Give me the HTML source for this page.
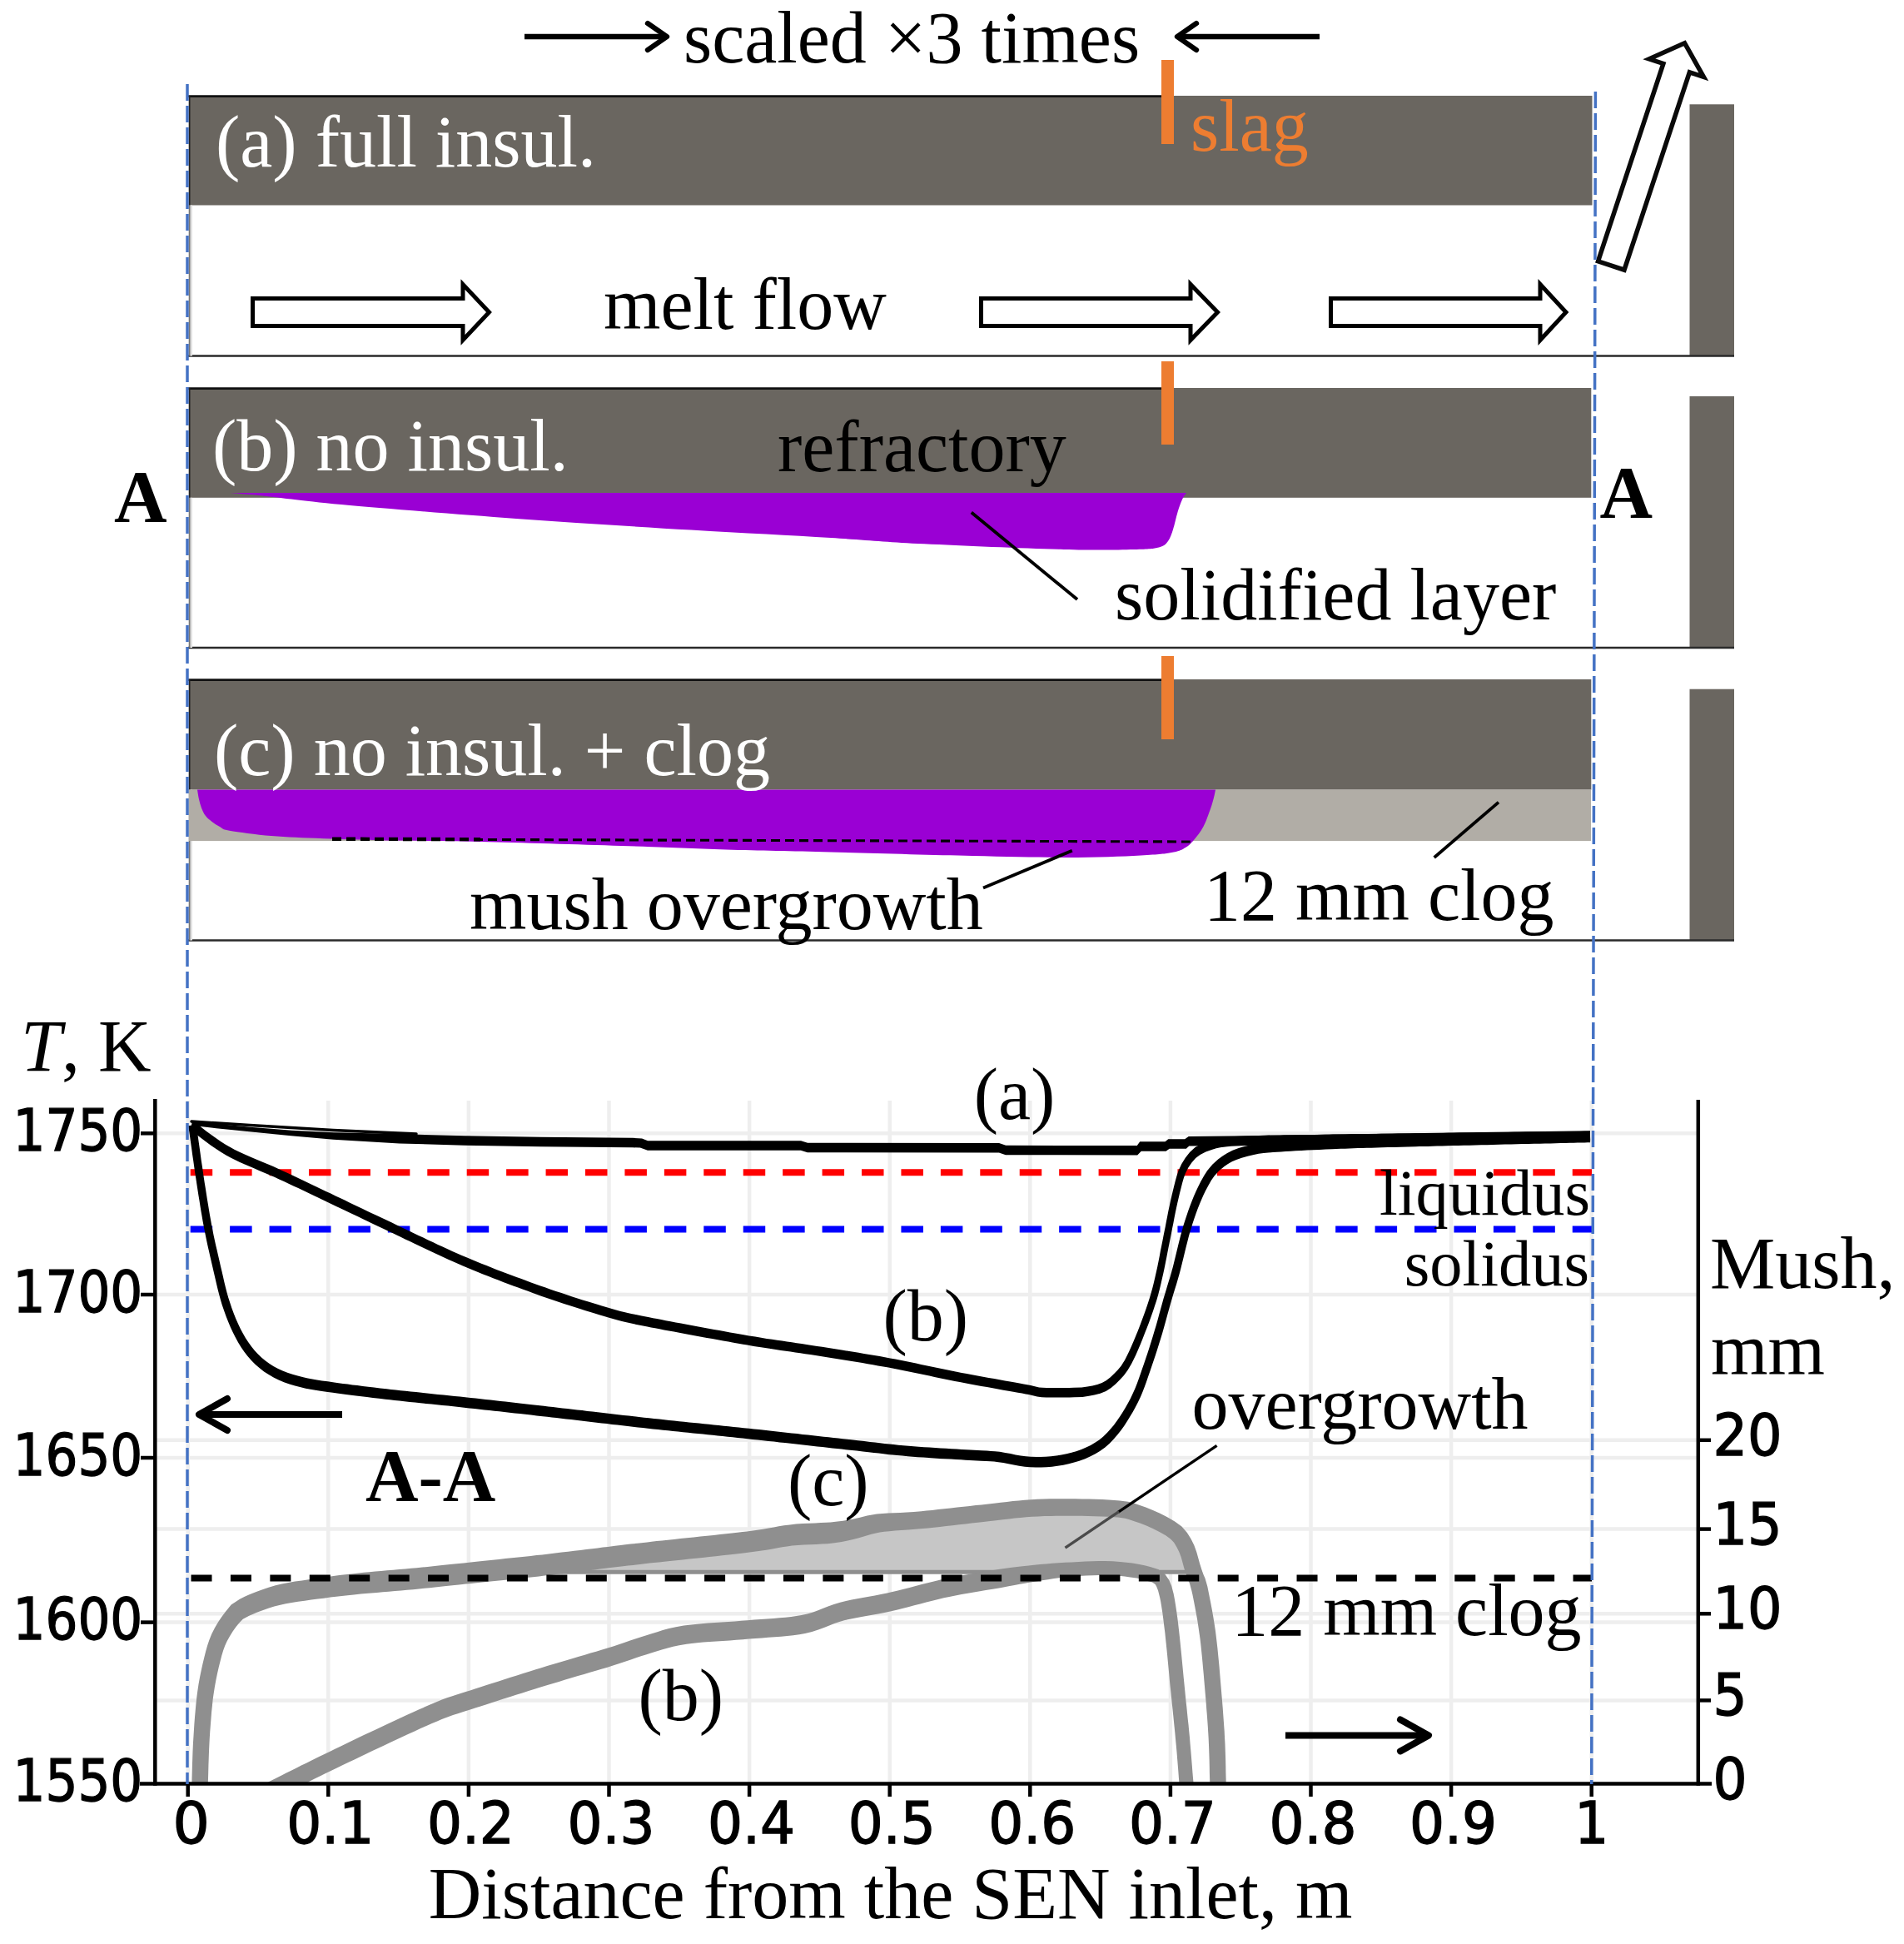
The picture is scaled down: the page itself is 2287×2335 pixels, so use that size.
<!DOCTYPE html>
<html lang="en"><head><meta charset="utf-8"><title>SEN solidification figure</title>
<style>
html,body{margin:0;padding:0;background:#fff;}
body{width:2287px;height:2335px;overflow:hidden;}
svg{display:block;}
.s{font-family:"Liberation Serif","Times New Roman",serif;font-size:88px;fill:#000;}
.sb{font-family:"Liberation Serif","Times New Roman",serif;font-size:88px;font-weight:bold;fill:#000;}
.t{font-family:"DejaVu Sans Condensed","DejaVu Sans","Liberation Sans",sans-serif;font-size:70px;fill:#000;stroke:#000;stroke-width:1.3px;}
</style></head><body>
<svg width="2287" height="2335" viewBox="0 0 2287 2335">
<rect x="0" y="0" width="2287" height="2335" fill="#fff"/>
<defs><clipPath id="plotclip"><rect x="186" y="1300" width="1860" height="842.5"/></clipPath></defs>
<g stroke="#eeeeee" stroke-width="4.5" fill="none">
<line x1="225.7" y1="1322" x2="225.7" y2="2142"/>
<line x1="394.3" y1="1322" x2="394.3" y2="2142"/>
<line x1="562.9" y1="1322" x2="562.9" y2="2142"/>
<line x1="731.5" y1="1322" x2="731.5" y2="2142"/>
<line x1="900.1" y1="1322" x2="900.1" y2="2142"/>
<line x1="1068.7" y1="1322" x2="1068.7" y2="2142"/>
<line x1="1237.3" y1="1322" x2="1237.3" y2="2142"/>
<line x1="1405.9" y1="1322" x2="1405.9" y2="2142"/>
<line x1="1574.5" y1="1322" x2="1574.5" y2="2142"/>
<line x1="1743.1" y1="1322" x2="1743.1" y2="2142"/>
<line x1="1911.7" y1="1322" x2="1911.7" y2="2142"/>
<line x1="186.3" y1="1361.3" x2="2039.8" y2="1361.3"/>
<line x1="186.3" y1="1555.0" x2="2039.8" y2="1555.0"/>
<line x1="186.3" y1="1751.0" x2="2039.8" y2="1751.0"/>
<line x1="186.3" y1="1948.6" x2="2039.8" y2="1948.6"/>
<line x1="186.3" y1="2042.4" x2="2039.8" y2="2042.4"/>
<line x1="186.3" y1="1938.3" x2="2039.8" y2="1938.3"/>
<line x1="186.3" y1="1836.6" x2="2039.8" y2="1836.6"/>
<line x1="186.3" y1="1729.8" x2="2039.8" y2="1729.8"/>
</g>
<path d="M495.0,1896.5 C505.5,1895.4 531.9,1892.8 558.2,1890.0 C584.5,1887.2 623.8,1883.2 652.7,1880.0 C681.6,1876.8 710.5,1873.0 731.5,1870.5 C752.5,1868.0 750.9,1868.1 778.8,1865.0 C806.7,1861.9 870.2,1855.5 898.7,1852.0 C927.2,1848.5 933.3,1845.8 950.0,1844.0 C966.7,1842.2 986.0,1842.3 999.0,1841.0 C1012.0,1839.7 1018.6,1837.9 1027.9,1836.0 C1037.2,1834.1 1041.7,1831.2 1055.0,1829.5 C1068.3,1827.8 1085.7,1827.7 1107.6,1825.6 C1129.5,1823.5 1164.4,1819.3 1186.3,1817.0 C1208.2,1814.7 1221.4,1812.6 1238.9,1811.5 C1256.4,1810.4 1273.9,1810.3 1291.4,1810.5 C1308.9,1810.7 1331.6,1811.3 1343.9,1812.5 C1356.2,1813.7 1357.5,1815.0 1365.0,1817.4 C1372.5,1819.8 1381.0,1823.0 1389.0,1826.9 C1397.0,1830.8 1406.7,1835.5 1412.7,1841.0 C1418.8,1846.5 1422.2,1853.4 1425.3,1860.0 C1428.4,1866.6 1430.5,1877.1 1431.6,1880.5 L1436.0,1890.0 L1400.0,1890.0 L1380.0,1890.5 L1358.8,1886.0 L1327.0,1883.5 L1280.0,1885.5 L1236.8,1890.5 L1201.0,1896.0 L1201.0,1890.0 L495.0,1890.0 Z" fill="#c6c6c6"/>
<line x1="640" y1="1888.3" x2="1436" y2="1888.3" stroke="#8f8f8f" stroke-width="5"/>
<g fill="#8f8f8f" clip-path="url(#plotclip)">
<path d="M249.7,2159.9 L249.7,2154.5 L249.8,2142.2 L250.0,2136.3 L250.2,2129.2 L250.4,2121.2 L250.7,2112.7 L251.0,2104.1 L251.4,2095.6 L251.8,2087.6 L252.3,2079.8 L252.9,2072.0 L253.5,2064.2 L254.1,2056.5 L254.9,2049.0 L255.6,2041.8 L256.5,2035.2 L257.9,2026.3 L259.4,2018.0 L261.0,2010.2 L262.7,2002.8 L264.4,1996.0 L266.3,1988.5 L268.2,1982.2 L270.2,1976.7 L272.7,1971.3 L275.9,1965.5 L279.6,1959.6 L283.5,1954.1 L287.2,1949.6 L291.8,1944.8 L299.2,1940.8 L303.4,1939.0 L309.1,1936.6 L315.4,1934.2 L322.3,1931.8 L329.4,1929.6 L336.7,1927.7 L343.3,1926.3 L350.5,1925.0 L358.1,1923.8 L366.0,1922.7 L373.9,1921.6 L381.7,1920.6 L389.0,1919.7 L396.7,1918.6 L403.8,1917.7 L410.6,1916.9 L417.5,1916.2 L424.9,1915.4 L433.3,1914.6 L439.4,1914.0 L445.9,1913.5 L452.7,1912.9 L459.8,1912.3 L467.0,1911.7 L474.4,1911.1 L481.7,1910.5 L489.0,1909.8 L496.2,1909.2 L503.1,1908.5 L509.7,1907.8 L516.2,1907.2 L522.7,1906.5 L529.3,1905.8 L536.1,1905.1 L543.4,1904.3 L551.1,1903.5 L559.5,1902.6 L565.8,1902.0 L572.5,1901.3 L579.5,1900.6 L586.8,1899.8 L594.3,1899.0 L601.9,1898.2 L609.7,1897.4 L617.4,1896.6 L625.1,1895.8 L632.7,1895.0 L640.1,1894.2 L647.3,1893.4 L654.1,1892.6 L662.0,1891.7 L669.9,1890.8 L677.7,1889.9 L685.4,1889.0 L692.9,1888.0 L700.3,1887.1 L707.4,1886.2 L714.3,1885.4 L720.8,1884.6 L727.1,1883.8 L733.0,1883.1 L741.9,1882.1 L748.4,1881.3 L754.1,1880.6 L760.3,1879.9 L768.5,1878.9 L780.2,1877.6 L785.4,1877.1 L791.4,1876.4 L797.8,1875.7 L804.8,1875.0 L812.2,1874.2 L819.9,1873.4 L827.8,1872.6 L835.8,1871.7 L843.9,1870.9 L851.9,1870.0 L859.9,1869.2 L867.6,1868.3 L875.1,1867.5 L882.1,1866.7 L888.7,1866.0 L894.8,1865.3 L900.3,1864.6 L911.4,1863.1 L920.5,1861.7 L927.8,1860.4 L934.1,1859.3 L939.6,1858.3 L945.2,1857.4 L951.4,1856.6 L958.3,1856.0 L965.5,1855.6 L972.8,1855.2 L980.1,1854.9 L987.2,1854.6 L993.9,1854.2 L1000.4,1853.6 L1009.5,1852.3 L1017.1,1850.8 L1023.7,1849.2 L1030.7,1847.5 L1039.2,1845.0 L1046.7,1842.7 L1056.8,1840.5 L1062.0,1839.8 L1068.2,1839.2 L1075.0,1838.5 L1082.5,1837.9 L1090.6,1837.4 L1099.3,1836.8 L1108.5,1836.0 L1114.9,1835.4 L1121.8,1834.7 L1129.0,1833.9 L1136.5,1833.1 L1144.2,1832.2 L1152.0,1831.3 L1159.7,1830.4 L1167.2,1829.6 L1174.4,1828.8 L1181.2,1828.0 L1187.4,1827.3 L1196.4,1826.3 L1204.4,1825.3 L1211.9,1824.5 L1218.9,1823.6 L1225.6,1822.9 L1232.5,1822.3 L1239.5,1821.8 L1246.9,1821.4 L1254.2,1821.1 L1261.6,1820.9 L1269.0,1820.8 L1276.4,1820.7 L1283.9,1820.7 L1291.3,1820.7 L1299.0,1820.8 L1307.1,1821.0 L1315.2,1821.2 L1323.2,1821.5 L1330.7,1821.8 L1337.4,1822.2 L1342.8,1822.6 L1351.3,1823.7 L1355.9,1825.0 L1361.7,1827.0 L1369.3,1829.5 L1377.0,1832.5 L1384.7,1836.0 L1392.6,1839.9 L1400.2,1844.2 L1406.0,1848.4 L1410.1,1852.8 L1413.4,1858.2 L1416.3,1863.9 L1418.6,1870.0 L1420.4,1876.6 L1422.2,1883.3 L1424.8,1891.1 L1427.2,1898.1 L1429.0,1902.0 L1431.3,1910.4 L1432.4,1915.3 L1433.7,1921.8 L1435.1,1929.1 L1436.6,1937.0 L1438.1,1945.3 L1439.4,1953.7 L1440.6,1961.9 L1441.5,1968.3 L1442.3,1975.0 L1443.0,1981.8 L1443.7,1988.8 L1444.4,1995.9 L1445.0,2003.1 L1445.7,2010.2 L1446.3,2017.4 L1446.9,2024.4 L1447.5,2031.5 L1448.1,2038.6 L1448.7,2045.7 L1449.2,2052.8 L1449.8,2059.8 L1450.3,2066.8 L1450.8,2073.7 L1451.2,2080.5 L1451.6,2087.1 L1452.0,2095.7 L1452.3,2104.4 L1452.6,2113.1 L1452.8,2121.5 L1452.9,2129.3 L1453.1,2136.3 L1453.3,2142.2 L1453.6,2154.7 L1453.7,2160.2 L1473.1,2159.8 L1473.1,2154.2 L1472.7,2141.8 L1472.6,2135.9 L1472.4,2128.9 L1472.3,2121.0 L1472.1,2112.6 L1471.8,2103.7 L1471.5,2094.8 L1471.0,2086.1 L1470.7,2079.3 L1470.2,2072.5 L1469.7,2065.5 L1469.2,2058.4 L1468.7,2051.3 L1468.1,2044.1 L1467.5,2036.9 L1466.9,2029.8 L1466.3,2022.8 L1465.7,2015.7 L1465.1,2008.6 L1464.5,2001.3 L1463.8,1994.1 L1463.1,1986.9 L1462.4,1979.8 L1461.6,1972.8 L1460.8,1965.9 L1460.0,1959.3 L1458.7,1950.7 L1457.3,1942.0 L1455.8,1933.5 L1454.3,1925.4 L1452.8,1918.0 L1451.5,1911.4 L1450.3,1905.6 L1447.5,1895.8 L1445.4,1891.1 L1443.3,1884.9 L1441.0,1877.7 L1439.3,1871.5 L1437.2,1864.0 L1434.3,1856.1 L1430.6,1848.6 L1425.9,1841.0 L1419.4,1833.6 L1411.1,1827.4 L1402.1,1822.2 L1393.3,1817.8 L1384.8,1813.9 L1376.3,1810.6 L1368.3,1807.8 L1361.9,1805.6 L1355.0,1803.8 L1345.0,1802.4 L1338.7,1801.9 L1331.7,1801.4 L1324.0,1801.1 L1315.9,1800.8 L1307.6,1800.5 L1299.3,1800.4 L1291.5,1800.3 L1283.9,1800.2 L1276.4,1800.2 L1268.8,1800.2 L1261.2,1800.3 L1253.6,1800.5 L1245.9,1800.8 L1238.3,1801.2 L1230.8,1801.7 L1223.6,1802.4 L1216.6,1803.1 L1209.5,1803.9 L1202.0,1804.8 L1194.0,1805.7 L1185.2,1806.7 L1178.9,1807.4 L1172.1,1808.1 L1164.8,1808.9 L1157.3,1809.8 L1149.7,1810.6 L1141.9,1811.5 L1134.3,1812.3 L1126.8,1813.1 L1119.6,1813.9 L1112.8,1814.6 L1106.7,1815.2 L1097.7,1815.9 L1089.2,1816.5 L1081.3,1817.0 L1073.8,1817.3 L1066.6,1817.5 L1059.9,1817.9 L1053.2,1818.5 L1041.6,1820.4 L1033.0,1822.7 L1025.1,1824.5 L1018.8,1825.6 L1012.6,1826.7 L1005.9,1827.6 L997.6,1828.4 L992.2,1828.8 L985.9,1829.1 L979.0,1829.4 L971.6,1829.7 L964.0,1830.1 L956.3,1830.6 L948.6,1831.4 L941.6,1832.3 L935.4,1833.3 L929.5,1834.4 L923.4,1835.5 L916.4,1836.7 L907.9,1838.0 L897.1,1839.4 L891.8,1840.0 L885.8,1840.7 L879.3,1841.5 L872.3,1842.2 L864.9,1843.0 L857.2,1843.9 L849.2,1844.7 L841.2,1845.6 L833.1,1846.4 L825.1,1847.3 L817.2,1848.1 L809.5,1848.9 L802.1,1849.7 L795.1,1850.4 L788.6,1851.1 L782.7,1851.8 L777.4,1852.4 L765.7,1853.7 L757.4,1854.6 L751.1,1855.3 L745.4,1856.0 L738.8,1856.8 L730.0,1857.9 L724.1,1858.6 L717.8,1859.4 L711.2,1860.2 L704.3,1861.0 L697.1,1861.9 L689.8,1862.8 L682.3,1863.7 L674.7,1864.6 L666.9,1865.6 L659.1,1866.5 L651.3,1867.4 L644.5,1868.1 L637.3,1868.9 L630.0,1869.7 L622.4,1870.5 L614.7,1871.3 L607.0,1872.1 L599.3,1872.9 L591.7,1873.7 L584.2,1874.5 L576.9,1875.3 L569.9,1876.0 L563.2,1876.7 L556.9,1877.4 L548.5,1878.2 L540.7,1879.1 L533.5,1879.8 L526.6,1880.5 L520.0,1881.2 L513.6,1881.9 L507.2,1882.5 L500.6,1883.2 L493.8,1883.8 L486.8,1884.5 L479.5,1885.1 L472.2,1885.7 L464.9,1886.3 L457.7,1886.9 L450.6,1887.5 L443.6,1888.2 L437.0,1888.8 L430.7,1889.4 L422.3,1890.4 L414.7,1891.2 L407.6,1892.1 L400.6,1893.0 L393.4,1894.0 L385.6,1895.1 L378.3,1896.2 L370.6,1897.2 L362.6,1898.4 L354.4,1899.6 L346.3,1901.0 L338.4,1902.6 L330.9,1904.3 L322.6,1906.7 L314.6,1909.4 L307.1,1912.2 L300.1,1915.1 L293.9,1917.8 L288.0,1920.8 L277.7,1927.6 L270.8,1936.0 L266.5,1941.7 L262.1,1948.3 L258.0,1955.3 L254.3,1962.5 L251.5,1969.4 L249.2,1976.2 L247.2,1983.3 L245.2,1991.2 L243.5,1998.3 L241.8,2006.0 L240.1,2014.3 L238.5,2023.1 L237.1,2032.4 L236.2,2039.6 L235.4,2047.0 L234.7,2054.7 L234.0,2062.6 L233.4,2070.6 L232.9,2078.5 L232.4,2086.4 L231.9,2094.6 L231.5,2103.3 L231.2,2112.1 L230.9,2120.6 L230.7,2128.7 L230.5,2135.8 L230.4,2141.8 L230.2,2154.4 L230.3,2160.1 Z"/>
<path d="M309.8,2170.6 L313.8,2168.6 L319.2,2165.9 L325.6,2162.7 L332.7,2159.1 L340.2,2155.3 L347.8,2151.6 L353.4,2148.8 L359.2,2145.9 L365.2,2142.9 L371.5,2139.8 L377.9,2136.6 L384.6,2133.3 L391.6,2129.8 L399.0,2126.2 L405.2,2123.2 L411.8,2120.1 L418.6,2116.8 L425.7,2113.4 L432.9,2109.9 L440.1,2106.5 L447.3,2103.0 L454.4,2099.7 L461.4,2096.4 L468.1,2093.2 L475.6,2089.8 L483.1,2086.3 L490.6,2082.8 L498.0,2079.4 L505.2,2076.1 L512.2,2073.0 L518.9,2070.1 L525.1,2067.4 L530.7,2065.0 L538.7,2061.9 L544.1,2060.0 L549.1,2058.4 L555.9,2056.3 L566.3,2053.0 L571.5,2051.3 L577.3,2049.4 L583.6,2047.4 L590.3,2045.2 L597.4,2042.9 L604.7,2040.6 L612.3,2038.2 L619.8,2035.8 L627.4,2033.4 L634.9,2031.1 L642.2,2028.8 L649.3,2026.6 L655.9,2024.5 L663.6,2022.2 L671.3,2019.9 L679.0,2017.6 L686.6,2015.3 L694.1,2013.1 L701.5,2010.9 L708.7,2008.8 L715.7,2006.8 L722.4,2004.8 L728.8,2002.9 L734.8,2001.0 L743.3,1998.3 L750.9,1995.8 L757.7,1993.5 L763.9,1991.3 L769.9,1989.3 L775.8,1987.4 L782.0,1985.5 L789.2,1983.3 L795.8,1981.3 L802.1,1979.4 L808.6,1977.7 L815.9,1976.2 L824.7,1974.8 L830.7,1974.0 L837.4,1973.3 L844.7,1972.6 L852.3,1972.0 L860.3,1971.5 L868.4,1970.9 L876.5,1970.4 L884.5,1969.8 L892.3,1969.2 L899.6,1968.6 L907.5,1967.9 L915.2,1967.4 L922.9,1966.8 L930.6,1966.3 L938.2,1965.7 L945.6,1965.0 L952.9,1964.2 L960.0,1963.2 L967.0,1961.9 L975.3,1959.9 L982.9,1957.5 L989.8,1954.9 L996.1,1952.4 L1002.2,1950.0 L1008.3,1947.9 L1014.9,1946.1 L1020.9,1944.7 L1027.2,1943.4 L1033.7,1942.2 L1040.5,1941.0 L1047.5,1939.8 L1054.9,1938.5 L1062.5,1937.0 L1070.4,1935.3 L1077.1,1933.7 L1083.9,1932.0 L1091.0,1930.2 L1098.1,1928.3 L1105.4,1926.4 L1112.6,1924.5 L1119.8,1922.7 L1126.8,1921.0 L1133.7,1919.3 L1140.3,1917.9 L1147.6,1916.4 L1155.0,1915.0 L1162.5,1913.7 L1169.8,1912.4 L1177.1,1911.2 L1184.1,1910.1 L1190.7,1909.0 L1197.0,1908.0 L1202.8,1907.0 L1211.5,1905.3 L1218.6,1903.9 L1224.8,1902.8 L1231.0,1901.7 L1238.1,1900.5 L1244.8,1899.4 L1251.7,1898.3 L1258.8,1897.2 L1266.1,1896.1 L1273.4,1895.1 L1280.7,1894.3 L1288.4,1893.5 L1296.4,1892.9 L1304.6,1892.5 L1312.6,1892.2 L1320.1,1892.0 L1326.9,1892.0 L1335.9,1892.3 L1343.8,1892.8 L1351.0,1893.6 L1357.6,1894.4 L1365.4,1895.6 L1371.9,1897.0 L1377.6,1898.7 L1384.0,1900.5 L1387.7,1903.1 L1389.1,1905.5 L1391.0,1910.3 L1393.1,1918.5 L1394.2,1923.7 L1395.2,1930.0 L1396.3,1937.0 L1397.3,1944.7 L1398.3,1952.9 L1399.4,1961.6 L1400.0,1967.7 L1400.7,1974.2 L1401.4,1981.0 L1402.1,1988.1 L1402.8,1995.4 L1403.5,2002.7 L1404.2,2010.0 L1404.8,2017.3 L1405.5,2024.4 L1406.3,2031.5 L1407.0,2038.6 L1407.7,2045.8 L1408.5,2052.9 L1409.2,2060.0 L1409.9,2067.0 L1410.6,2074.0 L1411.3,2080.8 L1411.9,2087.4 L1412.7,2096.0 L1413.5,2104.8 L1414.2,2113.5 L1414.9,2122.0 L1415.5,2129.8 L1416.0,2136.8 L1416.5,2142.7 L1417.6,2155.2 L1418.0,2160.7 L1435.0,2159.3 L1434.5,2153.8 L1433.5,2141.3 L1433.0,2135.4 L1432.4,2128.4 L1431.8,2120.6 L1431.1,2112.1 L1430.4,2103.4 L1429.6,2094.5 L1428.9,2085.8 L1428.2,2079.1 L1427.6,2072.3 L1426.8,2065.3 L1426.1,2058.2 L1425.4,2051.1 L1424.6,2044.0 L1423.9,2036.9 L1423.2,2029.8 L1422.5,2022.8 L1421.8,2015.7 L1421.1,2008.4 L1420.4,2001.1 L1419.7,1993.8 L1419.0,1986.5 L1418.3,1979.4 L1417.6,1972.5 L1416.9,1965.8 L1416.2,1959.6 L1415.2,1950.8 L1414.2,1942.5 L1413.1,1934.7 L1412.0,1927.4 L1410.9,1920.7 L1409.7,1914.5 L1407.2,1905.1 L1404.2,1897.7 L1399.5,1890.9 L1391.3,1885.1 L1382.4,1882.3 L1375.9,1880.5 L1368.5,1878.9 L1360.0,1877.6 L1352.9,1876.7 L1345.3,1875.9 L1336.7,1875.3 L1327.1,1875.0 L1319.9,1875.0 L1312.1,1875.2 L1303.8,1875.5 L1295.5,1876.0 L1287.2,1876.4 L1279.3,1876.7 L1271.6,1877.2 L1264.0,1877.7 L1256.6,1878.4 L1249.3,1879.1 L1242.2,1879.8 L1235.5,1880.5 L1228.2,1881.3 L1221.7,1882.0 L1215.2,1882.8 L1208.0,1883.8 L1199.2,1885.0 L1193.4,1885.9 L1187.2,1886.9 L1180.5,1888.0 L1173.4,1889.1 L1166.1,1890.4 L1158.6,1891.7 L1150.9,1893.1 L1143.3,1894.5 L1135.7,1896.1 L1128.7,1897.7 L1121.6,1899.4 L1114.4,1901.2 L1107.1,1903.1 L1099.8,1905.0 L1092.5,1906.9 L1085.4,1908.7 L1078.5,1910.5 L1071.9,1912.1 L1065.6,1913.5 L1058.0,1915.1 L1050.8,1916.5 L1043.6,1917.8 L1036.6,1919.0 L1029.7,1920.2 L1022.9,1921.5 L1016.1,1923.0 L1009.1,1924.7 L1001.6,1927.0 L994.6,1929.6 L988.2,1932.1 L982.0,1934.5 L975.9,1936.7 L969.6,1938.5 L962.6,1940.1 L956.6,1941.1 L950.2,1941.9 L943.4,1942.7 L936.3,1943.3 L928.9,1943.9 L921.3,1944.4 L913.6,1945.0 L905.7,1945.5 L897.8,1946.2 L890.5,1946.8 L882.9,1947.4 L874.9,1947.9 L866.8,1948.5 L858.7,1949.0 L850.6,1949.6 L842.7,1950.3 L835.2,1951.0 L828.0,1951.7 L821.3,1952.6 L811.8,1954.3 L803.5,1956.1 L796.1,1958.1 L789.4,1960.2 L782.7,1962.3 L775.6,1964.5 L769.2,1966.4 L763.0,1968.5 L756.9,1970.6 L750.6,1972.7 L743.9,1975.0 L736.6,1977.4 L728.2,1980.0 L722.4,1981.8 L716.1,1983.7 L709.4,1985.6 L702.5,1987.7 L695.3,1989.8 L687.9,1991.9 L680.4,1994.2 L672.7,1996.4 L665.0,1998.8 L657.2,2001.1 L649.5,2003.5 L642.7,2005.6 L635.7,2007.8 L628.3,2010.1 L620.8,2012.4 L613.2,2014.8 L605.6,2017.3 L598.1,2019.7 L590.7,2022.0 L583.6,2024.3 L576.8,2026.4 L570.5,2028.5 L564.7,2030.4 L559.5,2032.0 L549.3,2035.3 L542.5,2037.4 L536.9,2039.3 L530.8,2041.6 L522.5,2045.0 L516.5,2047.5 L510.2,2050.3 L503.4,2053.3 L496.3,2056.5 L489.0,2059.8 L481.5,2063.3 L474.0,2066.8 L466.5,2070.3 L459.1,2073.8 L452.3,2076.9 L445.3,2080.2 L438.1,2083.6 L430.8,2087.1 L423.6,2090.6 L416.4,2094.0 L409.3,2097.4 L402.4,2100.7 L395.9,2103.9 L389.6,2107.0 L382.2,2110.6 L375.2,2114.0 L368.4,2117.4 L361.9,2120.6 L355.7,2123.7 L349.7,2126.7 L343.9,2129.6 L338.2,2132.4 L330.7,2136.2 L323.2,2139.9 L316.0,2143.5 L309.6,2146.7 L304.2,2149.4 L300.2,2151.4 Z"/>
</g>
<line x1="228.7" y1="1408.3" x2="1912" y2="1408.3" stroke="#ff0000" stroke-width="8" stroke-dasharray="26.5 20.93"/>
<line x1="228.7" y1="1476.6" x2="1912" y2="1476.6" stroke="#0000ff" stroke-width="8" stroke-dasharray="26.5 20.93"/>
<line x1="229.5" y1="1895.6" x2="1912" y2="1895.6" stroke="#000" stroke-width="8" stroke-dasharray="25 22.43"/>
<g fill="none" stroke="#000" stroke-linejoin="round" stroke-linecap="round">
<path d="M230.1,1351.7 L259.7,1355.2 L299.7,1359.2 L349.7,1364.3 L400.4,1368.8 L479.8,1373.5 L557.9,1375.7 L649.9,1377.2 L759.9,1378.2 L768.9,1378.6 L777.9,1381.7 L961.9,1381.7 L969.9,1384.2 L1199.9,1384.5 L1207.9,1387.2 L1366.2,1387.5 L1370.8,1382.7 L1400.5,1382.7 L1404.7,1379.7 L1424.8,1379.7 L1428.3,1376.4 L1500.1,1375.7 L1592.1,1374.2 L1781.1,1371.4 L1910.1,1369.7 L1909.9,1358.3 L1780.9,1360.0 L1591.9,1362.8 L1499.9,1364.3 L1427.7,1365.0 L1423.2,1368.3 L1403.3,1368.3 L1399.5,1371.3 L1369.2,1371.3 L1365.8,1376.1 L1208.1,1375.8 L1200.1,1373.1 L970.1,1372.8 L962.1,1370.3 L778.1,1370.3 L771.1,1367.4 L760.1,1366.8 L650.1,1365.8 L558.1,1364.3 L480.2,1362.1 L400.8,1360.2 L350.3,1357.7 L300.3,1353.8 L260.3,1349.8 L230.7,1346.3 Z" fill="#000" stroke="none"/>
<path d="M230,1347 L300,1351.5 L400,1357.5 L500,1362" stroke-width="3.5"/>
<path d="M226.9,1355.7 L229.8,1357.8 L233.4,1360.5 L237.7,1363.9 L242.6,1367.7 L247.9,1371.7 L253.6,1375.9 L259.6,1380.0 L265.7,1384.0 L271.9,1387.7 L277.0,1390.5 L282.5,1393.3 L288.1,1395.9 L293.9,1398.5 L299.8,1401.1 L305.7,1403.6 L311.7,1406.2 L317.7,1408.7 L323.7,1411.2 L329.6,1413.8 L335.3,1416.4 L341.0,1419.0 L346.7,1421.7 L352.4,1424.4 L358.2,1427.1 L363.9,1429.8 L369.6,1432.6 L375.3,1435.3 L381.1,1438.0 L386.8,1440.8 L392.5,1443.5 L398.2,1446.2 L403.9,1448.9 L409.3,1451.5 L414.6,1454.0 L419.8,1456.5 L425.1,1459.1 L430.5,1461.6 L436.0,1464.3 L441.8,1467.0 L447.9,1469.9 L454.3,1473.0 L461.3,1476.3 L466.0,1478.5 L470.9,1480.8 L476.0,1483.3 L481.3,1485.8 L486.7,1488.4 L492.3,1491.1 L497.9,1493.8 L503.7,1496.5 L509.5,1499.3 L515.3,1502.1 L521.2,1504.8 L527.1,1507.6 L533.0,1510.3 L538.9,1512.9 L544.7,1515.5 L550.4,1518.0 L556.0,1520.5 L562.0,1523.0 L568.0,1525.5 L574.1,1528.0 L580.1,1530.4 L586.2,1532.8 L592.3,1535.2 L598.4,1537.6 L604.5,1539.9 L610.5,1542.2 L616.5,1544.4 L622.4,1546.6 L628.3,1548.7 L634.1,1550.8 L639.8,1552.9 L645.4,1554.9 L650.8,1556.9 L657.5,1559.2 L664.2,1561.5 L670.8,1563.8 L677.4,1565.9 L683.9,1568.1 L690.2,1570.1 L696.5,1572.1 L702.5,1574.0 L708.4,1575.8 L714.2,1577.6 L719.7,1579.2 L724.9,1580.8 L729.9,1582.2 L736.9,1584.2 L742.3,1585.8 L747.0,1587.0 L751.3,1588.1 L755.9,1589.1 L761.5,1590.3 L768.5,1591.7 L777.7,1593.5 L782.1,1594.4 L786.9,1595.3 L792.1,1596.3 L797.7,1597.4 L803.5,1598.5 L809.6,1599.6 L815.9,1600.8 L822.3,1602.0 L828.9,1603.2 L835.6,1604.5 L842.3,1605.7 L849.0,1606.9 L855.6,1608.1 L862.2,1609.3 L868.7,1610.5 L875.0,1611.6 L881.1,1612.7 L886.9,1613.7 L892.5,1614.7 L897.7,1615.6 L905.3,1616.9 L912.4,1618.1 L919.2,1619.1 L925.7,1620.1 L931.9,1621.1 L937.9,1622.0 L943.8,1622.8 L949.6,1623.6 L955.4,1624.5 L961.3,1625.3 L967.2,1626.2 L973.3,1627.1 L979.7,1628.1 L985.8,1629.1 L991.9,1630.1 L998.1,1631.1 L1004.4,1632.1 L1010.6,1633.0 L1016.9,1634.1 L1023.2,1635.1 L1029.6,1636.1 L1035.9,1637.1 L1042.2,1638.2 L1048.5,1639.3 L1054.7,1640.4 L1061.0,1641.5 L1067.2,1642.6 L1073.3,1643.8 L1079.5,1645.0 L1085.6,1646.2 L1091.8,1647.4 L1097.9,1648.7 L1104.1,1650.0 L1110.2,1651.3 L1116.4,1652.6 L1122.5,1653.9 L1128.6,1655.2 L1134.7,1656.4 L1140.8,1657.7 L1146.9,1658.9 L1152.9,1660.1 L1159.1,1661.3 L1165.5,1662.5 L1172.1,1663.7 L1178.8,1664.9 L1185.6,1666.1 L1192.3,1667.3 L1198.8,1668.5 L1205.2,1669.7 L1211.4,1670.7 L1217.2,1671.8 L1222.6,1672.7 L1227.6,1673.6 L1232.0,1674.4 L1235.6,1675.0 L1245.8,1677.5 L1251.2,1678.2 L1256.8,1678.4 L1263.4,1678.5 L1270.7,1678.5 L1278.0,1678.5 L1284.7,1678.4 L1290.2,1678.2 L1300.2,1677.9 L1307.9,1676.8 L1314.5,1675.6 L1321.5,1673.8 L1328.4,1670.9 L1334.6,1666.9 L1340.2,1662.2 L1345.4,1657.1 L1350.0,1652.0 L1354.4,1646.1 L1359.0,1638.3 L1361.6,1633.1 L1364.3,1627.4 L1367.0,1621.2 L1369.8,1614.7 L1372.5,1608.1 L1375.0,1601.6 L1377.6,1595.1 L1380.1,1588.4 L1382.6,1581.5 L1385.0,1574.7 L1387.2,1568.1 L1389.2,1561.9 L1391.2,1555.0 L1392.9,1548.5 L1394.4,1542.2 L1395.8,1536.1 L1397.2,1529.9 L1398.6,1523.5 L1399.9,1516.9 L1401.2,1510.4 L1402.4,1504.2 L1403.5,1498.4 L1404.8,1492.0 L1406.0,1486.2 L1407.1,1480.6 L1408.2,1474.8 L1409.4,1468.9 L1410.5,1463.0 L1411.7,1457.1 L1412.9,1451.2 L1414.2,1445.2 L1415.6,1439.2 L1417.0,1433.3 L1418.4,1427.8 L1420.1,1421.0 L1421.9,1414.8 L1423.8,1409.4 L1427.3,1402.4 L1431.4,1396.4 L1436.2,1391.1 L1441.6,1386.9 L1448.3,1383.5 L1456.2,1380.7 L1460.9,1379.2 L1465.8,1378.2 L1473.9,1377.2 L1478.7,1376.8 L1484.2,1376.5 L1490.3,1376.2 L1497.0,1375.9 L1504.2,1375.7 L1511.9,1375.5 L1520.1,1375.2 L1524.9,1375.1 L1529.3,1375.0 L1533.6,1375.0 L1537.9,1374.9 L1542.4,1374.8 L1547.2,1374.8 L1552.5,1374.7 L1558.5,1374.7 L1565.2,1374.6 L1573.0,1374.5 L1581.9,1374.4 L1592.1,1374.2 L1596.4,1374.2 L1601.1,1374.1 L1606.0,1374.1 L1611.2,1374.0 L1616.6,1373.9 L1622.2,1373.8 L1628.0,1373.8 L1634.0,1373.7 L1640.2,1373.6 L1646.5,1373.5 L1652.9,1373.4 L1659.5,1373.3 L1666.1,1373.3 L1672.8,1373.2 L1679.6,1373.1 L1686.4,1373.0 L1693.3,1372.9 L1700.1,1372.8 L1706.9,1372.7 L1713.7,1372.6 L1720.4,1372.5 L1727.1,1372.4 L1733.7,1372.4 L1740.1,1372.3 L1746.5,1372.2 L1752.7,1372.1 L1758.8,1372.0 L1764.7,1372.0 L1770.3,1371.9 L1775.8,1371.8 L1781.1,1371.7 L1788.6,1371.7 L1796.2,1371.6 L1803.8,1371.5 L1811.3,1371.4 L1818.7,1371.3 L1826.1,1371.2 L1833.3,1371.1 L1840.4,1371.0 L1847.3,1371.0 L1854.1,1370.9 L1860.6,1370.8 L1867.0,1370.7 L1873.0,1370.7 L1878.8,1370.6 L1884.4,1370.5 L1889.6,1370.5 L1894.4,1370.4 L1898.9,1370.4 L1903.1,1370.3 L1906.8,1370.3 L1910.1,1370.2 L1909.9,1358.8 L1906.6,1358.8 L1902.9,1358.8 L1898.8,1358.9 L1894.3,1358.9 L1889.4,1359.0 L1884.2,1359.0 L1878.7,1359.1 L1872.9,1359.2 L1866.8,1359.2 L1860.5,1359.3 L1853.9,1359.4 L1847.2,1359.5 L1840.3,1359.5 L1833.2,1359.6 L1825.9,1359.7 L1818.6,1359.8 L1811.1,1359.9 L1803.6,1360.0 L1796.1,1360.1 L1788.5,1360.2 L1780.9,1360.3 L1775.7,1360.3 L1770.2,1360.4 L1764.5,1360.5 L1758.6,1360.5 L1752.6,1360.6 L1746.4,1360.7 L1740.0,1360.8 L1733.5,1360.9 L1726.9,1360.9 L1720.3,1361.0 L1713.5,1361.1 L1706.8,1361.2 L1699.9,1361.3 L1693.1,1361.4 L1686.3,1361.5 L1679.5,1361.6 L1672.7,1361.7 L1666.0,1361.8 L1659.3,1361.8 L1652.8,1361.9 L1646.3,1362.0 L1640.0,1362.1 L1633.9,1362.2 L1627.9,1362.3 L1622.0,1362.3 L1616.4,1362.4 L1611.0,1362.5 L1605.8,1362.6 L1600.9,1362.6 L1596.3,1362.7 L1591.9,1362.8 L1581.8,1362.9 L1572.9,1363.0 L1565.1,1363.1 L1558.3,1363.2 L1552.4,1363.2 L1547.0,1363.3 L1542.2,1363.3 L1537.7,1363.4 L1533.4,1363.5 L1529.1,1363.5 L1524.6,1363.6 L1519.9,1363.8 L1511.6,1364.0 L1503.8,1364.2 L1496.5,1364.4 L1489.8,1364.7 L1483.6,1365.0 L1477.9,1365.4 L1472.7,1365.8 L1463.9,1366.9 L1457.9,1368.3 L1452.6,1370.1 L1443.8,1373.5 L1435.6,1378.1 L1429.1,1384.1 L1423.8,1390.8 L1419.3,1397.9 L1415.6,1406.0 L1413.5,1412.2 L1411.7,1418.7 L1410.0,1425.6 L1408.6,1431.2 L1407.2,1437.2 L1405.8,1443.3 L1404.5,1449.4 L1403.2,1455.4 L1402.1,1461.3 L1400.9,1467.3 L1399.8,1473.2 L1398.6,1478.9 L1397.5,1484.5 L1396.4,1490.3 L1395.1,1496.8 L1393.9,1502.6 L1392.8,1508.8 L1391.5,1515.2 L1390.2,1521.7 L1388.8,1528.1 L1387.4,1534.2 L1386.0,1540.3 L1384.5,1546.3 L1382.8,1552.6 L1380.8,1559.3 L1378.8,1565.4 L1376.7,1571.8 L1374.3,1578.5 L1371.8,1585.3 L1369.3,1591.9 L1366.8,1598.4 L1364.2,1604.7 L1361.5,1611.2 L1358.8,1617.6 L1356.1,1623.6 L1353.4,1629.1 L1351.0,1633.7 L1346.6,1640.8 L1342.6,1645.6 L1338.2,1650.1 L1333.5,1654.6 L1328.6,1658.3 L1323.6,1661.1 L1318.1,1663.1 L1312.1,1664.5 L1306.1,1665.6 L1299.3,1666.5 L1289.8,1666.8 L1284.5,1666.9 L1277.8,1667.0 L1270.6,1667.0 L1263.5,1667.0 L1257.0,1666.9 L1252.0,1666.8 L1248.1,1666.4 L1238.0,1664.0 L1234.0,1663.2 L1229.6,1662.4 L1224.6,1661.5 L1219.2,1660.5 L1213.4,1659.5 L1207.2,1658.4 L1200.8,1657.3 L1194.3,1656.1 L1187.6,1654.9 L1180.9,1653.7 L1174.2,1652.5 L1167.6,1651.3 L1161.2,1650.1 L1155.1,1648.9 L1149.1,1647.7 L1143.0,1646.5 L1137.0,1645.3 L1130.9,1644.0 L1124.8,1642.7 L1118.7,1641.5 L1112.6,1640.2 L1106.4,1638.9 L1100.3,1637.6 L1094.1,1636.3 L1087.9,1635.0 L1081.7,1633.8 L1075.5,1632.6 L1069.2,1631.4 L1063.0,1630.3 L1056.7,1629.1 L1050.4,1628.0 L1044.1,1627.0 L1037.8,1625.9 L1031.4,1624.8 L1025.1,1623.8 L1018.7,1622.8 L1012.4,1621.8 L1006.2,1620.8 L999.9,1619.8 L993.7,1618.8 L987.6,1617.8 L981.5,1616.9 L975.1,1615.9 L968.9,1614.9 L962.9,1614.0 L957.0,1613.2 L951.2,1612.3 L945.4,1611.5 L939.5,1610.6 L933.5,1609.8 L927.4,1608.8 L921.0,1607.9 L914.2,1606.8 L907.2,1605.6 L899.7,1604.4 L894.5,1603.5 L888.9,1602.5 L883.1,1601.5 L877.0,1600.4 L870.7,1599.3 L864.2,1598.1 L857.7,1596.9 L851.0,1595.7 L844.3,1594.5 L837.6,1593.3 L831.0,1592.0 L824.4,1590.8 L818.0,1589.6 L811.7,1588.4 L805.6,1587.3 L799.8,1586.2 L794.3,1585.1 L789.1,1584.1 L784.3,1583.2 L779.9,1582.3 L770.7,1580.5 L763.7,1579.1 L758.3,1578.0 L753.9,1577.0 L749.8,1576.0 L745.3,1574.9 L740.0,1573.4 L733.1,1571.4 L728.1,1569.9 L722.9,1568.4 L717.4,1566.8 L711.7,1565.1 L705.9,1563.3 L699.8,1561.4 L693.6,1559.4 L687.3,1557.4 L680.9,1555.3 L674.4,1553.1 L667.8,1550.9 L661.2,1548.7 L654.6,1546.3 L649.1,1544.4 L643.5,1542.4 L637.9,1540.4 L632.1,1538.3 L626.3,1536.1 L620.4,1534.0 L614.4,1531.7 L608.4,1529.5 L602.4,1527.2 L596.3,1524.9 L590.3,1522.5 L584.3,1520.1 L578.2,1517.7 L572.2,1515.3 L566.3,1512.8 L560.4,1510.3 L554.8,1507.9 L549.1,1505.5 L543.4,1502.9 L537.6,1500.3 L531.7,1497.6 L525.9,1494.9 L520.0,1492.1 L514.2,1489.4 L508.4,1486.6 L502.7,1483.9 L497.0,1481.2 L491.5,1478.5 L486.1,1475.9 L480.8,1473.4 L475.6,1471.0 L470.7,1468.6 L465.9,1466.3 L459.0,1463.1 L452.6,1460.0 L446.5,1457.2 L440.7,1454.4 L435.2,1451.8 L429.8,1449.2 L424.5,1446.7 L419.3,1444.2 L414.0,1441.6 L408.6,1439.0 L403.0,1436.4 L397.2,1433.6 L391.5,1430.9 L385.8,1428.2 L380.1,1425.4 L374.3,1422.7 L368.6,1419.9 L362.9,1417.2 L357.1,1414.5 L351.4,1411.8 L345.6,1409.1 L339.9,1406.4 L334.0,1403.7 L328.1,1401.1 L322.1,1398.5 L316.0,1396.0 L310.0,1393.5 L304.1,1391.0 L298.3,1388.5 L292.7,1385.9 L287.2,1383.4 L282.0,1380.9 L277.1,1378.3 L271.3,1374.9 L265.4,1371.2 L259.7,1367.3 L254.1,1363.3 L248.8,1359.4 L244.0,1355.7 L239.7,1352.3 L236.0,1349.5 L233.1,1347.3 Z" fill="#000" stroke="none"/>
<path d="M226.3,1352.2 L226.8,1355.9 L227.5,1360.8 L228.3,1366.6 L229.2,1373.1 L230.2,1380.1 L231.2,1387.4 L232.3,1394.8 L233.3,1402.0 L234.3,1408.9 L235.3,1415.2 L236.3,1421.9 L237.3,1428.5 L238.3,1435.1 L239.4,1441.6 L240.4,1448.0 L241.4,1454.3 L242.5,1460.5 L243.5,1466.4 L244.6,1472.2 L245.9,1479.1 L247.2,1485.6 L248.5,1491.8 L249.8,1497.8 L251.2,1503.8 L252.6,1510.0 L254.1,1516.5 L255.5,1522.6 L257.0,1528.9 L258.5,1535.5 L260.0,1542.1 L261.6,1548.7 L263.3,1555.2 L265.0,1561.4 L266.7,1567.3 L269.2,1574.6 L271.7,1581.5 L274.3,1588.1 L277.0,1594.4 L279.7,1600.3 L282.6,1606.0 L286.1,1612.4 L289.8,1618.4 L293.6,1623.9 L297.7,1629.2 L302.1,1634.2 L306.8,1638.9 L311.8,1643.3 L317.1,1647.4 L322.7,1651.1 L328.6,1654.6 L334.7,1657.6 L341.1,1660.2 L347.6,1662.5 L354.4,1664.5 L361.3,1666.3 L367.2,1667.7 L372.9,1668.8 L378.8,1669.8 L385.0,1670.7 L391.9,1671.7 L399.7,1672.8 L404.9,1673.5 L410.3,1674.2 L415.8,1675.0 L421.7,1675.7 L427.8,1676.5 L434.2,1677.3 L440.8,1678.1 L447.8,1678.9 L455.2,1679.8 L462.9,1680.7 L468.3,1681.3 L474.0,1681.9 L479.8,1682.6 L485.9,1683.2 L492.1,1683.9 L498.5,1684.5 L505.0,1685.2 L511.6,1685.9 L518.2,1686.6 L524.9,1687.3 L531.5,1687.9 L538.1,1688.6 L544.7,1689.3 L551.2,1690.0 L557.5,1690.7 L563.8,1691.4 L569.9,1692.0 L575.9,1692.7 L581.9,1693.4 L587.9,1694.0 L593.8,1694.7 L599.8,1695.3 L605.8,1696.0 L611.9,1696.7 L618.2,1697.4 L624.5,1698.1 L631.1,1698.8 L637.8,1699.6 L644.8,1700.4 L652.0,1701.2 L657.3,1701.8 L662.8,1702.4 L668.4,1703.1 L674.1,1703.7 L680.0,1704.4 L685.9,1705.1 L691.9,1705.8 L698.0,1706.5 L704.1,1707.2 L710.3,1708.0 L716.6,1708.7 L722.8,1709.4 L729.1,1710.1 L735.3,1710.9 L741.6,1711.6 L747.8,1712.3 L754.0,1713.0 L760.1,1713.7 L766.2,1714.4 L772.2,1715.0 L778.1,1715.7 L784.3,1716.4 L790.4,1717.0 L796.4,1717.7 L802.5,1718.3 L808.5,1718.9 L814.5,1719.6 L820.5,1720.2 L826.4,1720.8 L832.4,1721.4 L838.3,1722.0 L844.3,1722.6 L850.2,1723.2 L856.1,1723.8 L862.1,1724.4 L868.0,1725.1 L874.0,1725.7 L880.0,1726.3 L886.0,1726.9 L892.0,1727.6 L898.0,1728.2 L904.2,1728.9 L910.4,1729.5 L916.8,1730.2 L923.3,1730.9 L929.8,1731.6 L936.4,1732.4 L942.9,1733.1 L949.5,1733.8 L956.1,1734.5 L962.6,1735.3 L969.1,1736.0 L975.5,1736.7 L981.7,1737.4 L987.9,1738.1 L993.9,1738.7 L999.7,1739.4 L1005.4,1740.0 L1010.8,1740.6 L1016.0,1741.2 L1020.9,1741.7 L1029.2,1742.6 L1036.6,1743.5 L1043.4,1744.2 L1049.7,1745.0 L1055.5,1745.6 L1061.1,1746.3 L1066.7,1746.9 L1072.2,1747.5 L1077.9,1748.1 L1084.0,1748.6 L1090.5,1749.2 L1096.4,1749.7 L1102.6,1750.2 L1109.1,1750.6 L1115.7,1751.1 L1122.4,1751.5 L1129.1,1751.9 L1135.7,1752.3 L1142.2,1752.6 L1148.4,1753.0 L1154.3,1753.3 L1159.8,1753.7 L1164.8,1754.0 L1169.3,1754.2 L1178.5,1754.8 L1184.9,1755.1 L1189.7,1755.3 L1194.1,1755.6 L1199.2,1756.2 L1205.1,1757.1 L1211.3,1758.3 L1217.7,1759.6 L1224.2,1760.8 L1230.9,1761.7 L1237.4,1762.2 L1244.0,1762.5 L1250.5,1762.5 L1257.1,1762.2 L1263.6,1761.7 L1270.3,1760.8 L1277.1,1759.7 L1283.8,1758.3 L1290.3,1756.6 L1296.4,1754.8 L1303.3,1752.2 L1309.8,1749.3 L1315.7,1746.2 L1321.1,1742.9 L1327.4,1738.5 L1332.8,1733.7 L1338.0,1728.2 L1342.1,1723.5 L1346.1,1718.4 L1350.1,1712.9 L1354.1,1706.8 L1357.3,1701.6 L1360.5,1696.2 L1363.8,1690.3 L1366.9,1684.2 L1370.0,1677.7 L1372.4,1671.9 L1374.7,1666.0 L1376.9,1659.9 L1379.1,1653.6 L1381.3,1647.3 L1383.4,1641.0 L1385.6,1634.6 L1387.8,1628.0 L1389.9,1621.4 L1392.0,1614.7 L1394.1,1608.0 L1396.1,1601.4 L1398.0,1594.7 L1399.9,1587.9 L1401.8,1581.1 L1403.6,1574.4 L1405.4,1568.0 L1407.1,1562.0 L1409.1,1555.2 L1411.1,1548.8 L1413.0,1542.7 L1414.8,1536.6 L1416.6,1530.3 L1418.3,1523.8 L1419.9,1517.2 L1421.5,1510.7 L1423.0,1504.5 L1424.4,1498.8 L1426.0,1492.4 L1427.5,1486.5 L1429.0,1481.0 L1430.7,1475.4 L1432.5,1469.5 L1434.5,1463.6 L1436.5,1457.8 L1438.6,1452.0 L1440.8,1446.4 L1443.1,1440.9 L1445.5,1435.5 L1447.9,1430.4 L1451.4,1423.9 L1454.9,1417.7 L1458.6,1412.6 L1464.3,1406.3 L1470.6,1401.1 L1475.0,1398.0 L1479.8,1395.3 L1485.1,1392.9 L1491.5,1390.7 L1498.6,1388.7 L1506.1,1387.0 L1511.9,1385.8 L1517.7,1385.0 L1529.0,1384.0 L1533.5,1383.7 L1538.6,1383.4 L1544.2,1383.0 L1550.1,1382.7 L1556.5,1382.3 L1563.2,1381.9 L1570.2,1381.6 L1577.4,1381.2 L1584.9,1380.9 L1592.5,1380.6 L1600.3,1380.2 L1605.5,1380.0 L1610.6,1379.8 L1615.6,1379.7 L1620.6,1379.5 L1625.7,1379.3 L1630.8,1379.1 L1636.0,1379.0 L1641.5,1378.8 L1647.3,1378.7 L1653.4,1378.5 L1659.8,1378.3 L1666.8,1378.1 L1674.2,1377.9 L1682.2,1377.7 L1690.8,1377.5 L1700.2,1377.2 L1704.8,1377.1 L1709.7,1377.0 L1714.9,1376.9 L1720.4,1376.7 L1726.2,1376.6 L1732.2,1376.4 L1738.5,1376.3 L1744.9,1376.1 L1751.5,1376.0 L1758.3,1375.8 L1765.1,1375.7 L1772.1,1375.5 L1779.2,1375.3 L1786.3,1375.2 L1793.5,1375.0 L1800.6,1374.8 L1807.8,1374.6 L1815.0,1374.5 L1822.1,1374.3 L1829.1,1374.1 L1836.0,1374.0 L1842.8,1373.8 L1849.4,1373.7 L1855.9,1373.5 L1862.2,1373.4 L1868.3,1373.2 L1874.2,1373.1 L1879.8,1373.0 L1885.2,1372.8 L1890.2,1372.7 L1894.9,1372.6 L1899.3,1372.5 L1903.3,1372.4 L1906.9,1372.3 L1910.1,1372.2 L1909.9,1359.8 L1906.6,1359.8 L1903.0,1359.9 L1899.0,1360.0 L1894.6,1360.1 L1889.9,1360.2 L1884.9,1360.3 L1879.5,1360.5 L1873.9,1360.6 L1868.1,1360.7 L1862.0,1360.9 L1855.6,1361.0 L1849.2,1361.2 L1842.5,1361.3 L1835.7,1361.5 L1828.8,1361.7 L1821.8,1361.8 L1814.7,1362.0 L1807.5,1362.1 L1800.4,1362.3 L1793.2,1362.5 L1786.0,1362.7 L1778.9,1362.8 L1771.8,1363.0 L1764.8,1363.2 L1758.0,1363.3 L1751.2,1363.5 L1744.6,1363.6 L1738.2,1363.8 L1731.9,1364.0 L1725.9,1364.1 L1720.1,1364.2 L1714.6,1364.4 L1709.4,1364.5 L1704.4,1364.6 L1699.8,1364.8 L1690.5,1365.0 L1681.9,1365.2 L1673.9,1365.4 L1666.4,1365.6 L1659.5,1365.8 L1653.0,1366.0 L1646.9,1366.2 L1641.2,1366.3 L1635.7,1366.5 L1630.4,1366.7 L1625.2,1366.8 L1620.2,1367.0 L1615.2,1367.2 L1610.2,1367.4 L1605.0,1367.6 L1599.7,1367.8 L1592.0,1368.1 L1584.3,1368.4 L1576.9,1368.8 L1569.6,1369.1 L1562.6,1369.5 L1555.8,1369.8 L1549.4,1370.2 L1543.4,1370.6 L1537.8,1370.9 L1532.7,1371.2 L1528.0,1371.6 L1516.3,1372.6 L1509.7,1373.6 L1503.5,1375.0 L1495.6,1376.8 L1487.8,1379.0 L1480.5,1381.7 L1474.2,1384.9 L1468.6,1388.4 L1463.4,1392.3 L1456.5,1398.5 L1450.2,1406.0 L1446.2,1412.3 L1442.4,1419.0 L1438.9,1426.0 L1436.3,1431.4 L1433.9,1437.0 L1431.6,1442.8 L1429.4,1448.6 L1427.2,1454.5 L1425.2,1460.5 L1423.2,1466.6 L1421.3,1472.6 L1419.7,1478.4 L1418.1,1484.1 L1416.6,1490.0 L1415.0,1496.4 L1413.6,1502.2 L1412.1,1508.5 L1410.5,1514.9 L1408.9,1521.4 L1407.2,1527.7 L1405.5,1533.8 L1403.6,1539.8 L1401.7,1545.9 L1399.8,1552.4 L1397.7,1559.2 L1396.0,1565.4 L1394.2,1571.9 L1392.4,1578.5 L1390.6,1585.3 L1388.7,1592.0 L1386.7,1598.6 L1384.7,1605.2 L1382.7,1611.8 L1380.6,1618.4 L1378.5,1625.0 L1376.3,1631.5 L1374.2,1637.8 L1372.0,1644.1 L1369.8,1650.4 L1367.7,1656.5 L1365.5,1662.5 L1363.2,1668.2 L1360.8,1673.5 L1357.9,1679.7 L1354.8,1685.5 L1351.7,1691.0 L1348.5,1696.3 L1345.3,1701.2 L1341.5,1706.8 L1337.7,1712.0 L1333.8,1716.6 L1330.0,1720.8 L1325.2,1725.6 L1320.4,1729.4 L1314.9,1733.1 L1310.0,1735.9 L1304.6,1738.5 L1298.9,1741.0 L1292.6,1743.2 L1287.1,1744.8 L1281.1,1746.2 L1274.8,1747.5 L1268.5,1748.5 L1262.4,1749.3 L1256.3,1749.8 L1250.3,1750.0 L1244.2,1750.0 L1238.2,1749.7 L1232.1,1749.3 L1226.1,1748.6 L1220.0,1747.4 L1213.7,1746.1 L1207.3,1744.9 L1200.8,1743.8 L1195.2,1743.2 L1190.5,1742.9 L1185.6,1742.6 L1179.2,1742.3 L1170.1,1741.8 L1165.6,1741.5 L1160.5,1741.2 L1155.0,1740.9 L1149.1,1740.5 L1142.9,1740.2 L1136.4,1739.8 L1129.8,1739.4 L1123.2,1739.0 L1116.5,1738.6 L1109.9,1738.2 L1103.5,1737.7 L1097.4,1737.3 L1091.5,1736.8 L1085.1,1736.2 L1079.1,1735.7 L1073.5,1735.1 L1068.0,1734.5 L1062.5,1733.9 L1057.0,1733.3 L1051.1,1732.6 L1044.9,1731.9 L1038.1,1731.1 L1030.6,1730.2 L1022.3,1729.3 L1017.3,1728.8 L1012.1,1728.2 L1006.7,1727.6 L1001.1,1727.0 L995.3,1726.3 L989.3,1725.7 L983.1,1725.0 L976.8,1724.3 L970.5,1723.6 L964.0,1722.9 L957.5,1722.1 L950.9,1721.4 L944.3,1720.7 L937.7,1720.0 L931.1,1719.3 L924.6,1718.5 L918.2,1717.8 L911.8,1717.1 L905.5,1716.5 L899.4,1715.8 L893.3,1715.2 L887.3,1714.5 L881.3,1713.9 L875.3,1713.3 L869.3,1712.7 L863.3,1712.0 L857.4,1711.4 L851.5,1710.8 L845.5,1710.2 L839.6,1709.6 L833.6,1709.0 L827.7,1708.4 L821.7,1707.8 L815.8,1707.2 L809.8,1706.5 L803.8,1705.9 L797.8,1705.3 L791.7,1704.6 L785.6,1704.0 L779.5,1703.3 L773.6,1702.7 L767.6,1702.0 L761.5,1701.3 L755.4,1700.6 L749.2,1699.9 L743.0,1699.2 L736.8,1698.5 L730.5,1697.8 L724.3,1697.0 L718.0,1696.3 L711.8,1695.6 L705.6,1694.9 L699.4,1694.1 L693.3,1693.4 L687.3,1692.7 L681.4,1692.0 L675.6,1691.4 L669.8,1690.7 L664.2,1690.0 L658.7,1689.4 L653.4,1688.8 L646.2,1688.0 L639.2,1687.2 L632.5,1686.4 L625.9,1685.7 L619.6,1685.0 L613.3,1684.3 L607.2,1683.6 L601.2,1682.9 L595.2,1682.3 L589.2,1681.6 L583.3,1681.0 L577.3,1680.3 L571.2,1679.6 L565.1,1679.0 L558.9,1678.3 L552.5,1677.6 L546.0,1676.9 L539.4,1676.2 L532.8,1675.5 L526.1,1674.9 L519.5,1674.2 L512.9,1673.5 L506.3,1672.8 L499.8,1672.1 L493.4,1671.5 L487.2,1670.8 L481.2,1670.2 L475.3,1669.5 L469.7,1668.9 L464.3,1668.3 L456.6,1667.4 L449.3,1666.6 L442.3,1665.7 L435.7,1664.9 L429.3,1664.1 L423.3,1663.4 L417.5,1662.6 L411.9,1661.9 L406.6,1661.2 L401.5,1660.4 L393.6,1659.3 L386.8,1658.4 L380.7,1657.5 L375.1,1656.6 L369.7,1655.6 L364.3,1654.3 L357.6,1652.6 L351.3,1650.8 L345.2,1648.8 L339.5,1646.6 L334.0,1644.0 L328.8,1641.2 L323.7,1638.0 L318.9,1634.5 L314.3,1630.7 L309.9,1626.6 L305.9,1622.2 L302.1,1617.6 L298.5,1612.6 L295.0,1607.2 L291.6,1601.2 L288.8,1595.9 L286.1,1590.2 L283.4,1584.3 L280.9,1578.0 L278.4,1571.3 L276.1,1564.3 L274.3,1558.7 L272.6,1552.7 L271.0,1546.4 L269.4,1539.9 L267.9,1533.3 L266.4,1526.8 L264.9,1520.4 L263.5,1514.3 L262.0,1507.8 L260.6,1501.6 L259.2,1495.7 L257.9,1489.7 L256.6,1483.7 L255.3,1477.3 L254.0,1470.4 L253.0,1464.7 L251.9,1458.8 L250.9,1452.7 L249.9,1446.5 L248.8,1440.1 L247.8,1433.6 L246.8,1427.0 L245.7,1420.4 L244.7,1413.8 L243.8,1407.5 L242.8,1400.6 L241.7,1393.4 L240.7,1386.1 L239.7,1378.8 L238.7,1371.8 L237.8,1365.3 L237.0,1359.5 L236.3,1354.6 L235.7,1350.8 Z" fill="#000" stroke="none"/>
</g>
<g stroke="#000" stroke-width="4.5" fill="none">
<line x1="186.3" y1="1320" x2="186.3" y2="2144.7"/>
<line x1="2039.8" y1="1321" x2="2039.8" y2="2144.7"/>
<line x1="168" y1="2142.5" x2="2056" y2="2142.5"/>
<line x1="169" y1="1361.3" x2="186.3" y2="1361.3"/>
<line x1="169" y1="1555.0" x2="186.3" y2="1555.0"/>
<line x1="169" y1="1751.0" x2="186.3" y2="1751.0"/>
<line x1="169" y1="1948.6" x2="186.3" y2="1948.6"/>
<line x1="2039.8" y1="2042.4" x2="2055" y2="2042.4"/>
<line x1="2039.8" y1="1938.3" x2="2055" y2="1938.3"/>
<line x1="2039.8" y1="1836.6" x2="2055" y2="1836.6"/>
<line x1="2039.8" y1="1729.8" x2="2055" y2="1729.8"/>
<line x1="225.7" y1="2142" x2="225.7" y2="2158"/>
<line x1="394.3" y1="2142" x2="394.3" y2="2158"/>
<line x1="562.9" y1="2142" x2="562.9" y2="2158"/>
<line x1="731.5" y1="2142" x2="731.5" y2="2158"/>
<line x1="900.1" y1="2142" x2="900.1" y2="2158"/>
<line x1="1068.7" y1="2142" x2="1068.7" y2="2158"/>
<line x1="1237.3" y1="2142" x2="1237.3" y2="2158"/>
<line x1="1405.9" y1="2142" x2="1405.9" y2="2158"/>
<line x1="1574.5" y1="2142" x2="1574.5" y2="2158"/>
<line x1="1743.1" y1="2142" x2="1743.1" y2="2158"/>
<line x1="1911.7" y1="2142" x2="1911.7" y2="2158"/>
</g>
<text class="t" x="15.6" y="1381.8" textLength="155.7" lengthAdjust="spacingAndGlyphs">1750</text>
<text class="t" x="15.6" y="1575.5" textLength="155.7" lengthAdjust="spacingAndGlyphs">1700</text>
<text class="t" x="15.6" y="1771.5" textLength="155.7" lengthAdjust="spacingAndGlyphs">1650</text>
<text class="t" x="15.6" y="1969.1" textLength="155.7" lengthAdjust="spacingAndGlyphs">1600</text>
<text class="t" x="15.6" y="2163.0" textLength="155.7" lengthAdjust="spacingAndGlyphs">1550</text>
<text class="t" x="2057.5" y="2160.5" textLength="41" lengthAdjust="spacingAndGlyphs">0</text>
<text class="t" x="2057.5" y="2060.4" textLength="41" lengthAdjust="spacingAndGlyphs">5</text>
<text class="t" x="2057.5" y="1956.3" textLength="83" lengthAdjust="spacingAndGlyphs">10</text>
<text class="t" x="2057.5" y="1854.6" textLength="83" lengthAdjust="spacingAndGlyphs">15</text>
<text class="t" x="2057.5" y="1747.8" textLength="83" lengthAdjust="spacingAndGlyphs">20</text>
<text class="t" x="207.5" y="2213.5" textLength="44.3" lengthAdjust="spacingAndGlyphs">0</text>
<text class="t" x="344.3" y="2213.5" textLength="105.0" lengthAdjust="spacingAndGlyphs">0.1</text>
<text class="t" x="512.9" y="2213.5" textLength="105.0" lengthAdjust="spacingAndGlyphs">0.2</text>
<text class="t" x="681.5" y="2213.5" textLength="105.0" lengthAdjust="spacingAndGlyphs">0.3</text>
<text class="t" x="850.1" y="2213.5" textLength="105.0" lengthAdjust="spacingAndGlyphs">0.4</text>
<text class="t" x="1018.7" y="2213.5" textLength="105.0" lengthAdjust="spacingAndGlyphs">0.5</text>
<text class="t" x="1187.3" y="2213.5" textLength="105.0" lengthAdjust="spacingAndGlyphs">0.6</text>
<text class="t" x="1355.9" y="2213.5" textLength="105.0" lengthAdjust="spacingAndGlyphs">0.7</text>
<text class="t" x="1524.5" y="2213.5" textLength="105.0" lengthAdjust="spacingAndGlyphs">0.8</text>
<text class="t" x="1693.1" y="2213.5" textLength="105.0" lengthAdjust="spacingAndGlyphs">0.9</text>
<text class="t" x="1891.2" y="2213.5" textLength="41.0" lengthAdjust="spacingAndGlyphs">1</text>
<rect x="227" y="115.0" width="1685.5" height="131.5" fill="#6a6660"/>
<line x1="226" y1="115.6" x2="1396" y2="115.6" stroke="#111" stroke-width="2.6"/>
<rect x="2029.5" y="125.3" width="53.5" height="302.2" fill="#6a6660"/>
<line x1="226" y1="427.5" x2="2083" y2="427.5" stroke="#2a2a2a" stroke-width="2.6"/>
<line x1="229.5" y1="246.5" x2="229.5" y2="427.5" stroke="#e2e2e2" stroke-width="3"/>
<line x1="227.6" y1="246.5" x2="227.6" y2="427.5" stroke="#777" stroke-width="1.8"/>
<line x1="227.6" y1="115.0" x2="227.6" y2="246.5" stroke="#222" stroke-width="1.8"/>
<rect x="227" y="466.0" width="1684.3" height="131.8" fill="#6a6660"/>
<line x1="226" y1="466.6" x2="1396" y2="466.6" stroke="#111" stroke-width="2.6"/>
<rect x="2029.5" y="476.0" width="53.5" height="302.0" fill="#6a6660"/>
<line x1="226" y1="778.0" x2="2083" y2="778.0" stroke="#2a2a2a" stroke-width="2.6"/>
<line x1="229.5" y1="597.8" x2="229.5" y2="778.0" stroke="#e2e2e2" stroke-width="3"/>
<line x1="227.6" y1="597.8" x2="227.6" y2="778.0" stroke="#777" stroke-width="1.8"/>
<line x1="227.6" y1="466.0" x2="227.6" y2="597.8" stroke="#222" stroke-width="1.8"/>
<rect x="227" y="816.0" width="1684.3" height="132.6" fill="#6a6660"/>
<line x1="226" y1="816.6" x2="1396" y2="816.6" stroke="#111" stroke-width="2.6"/>
<rect x="2029.5" y="827.7" width="53.5" height="301.8" fill="#6a6660"/>
<line x1="226" y1="1129.5" x2="2083" y2="1129.5" stroke="#2a2a2a" stroke-width="2.6"/>
<line x1="229.5" y1="948.6" x2="229.5" y2="1129.5" stroke="#e2e2e2" stroke-width="3"/>
<line x1="227.6" y1="948.6" x2="227.6" y2="1129.5" stroke="#777" stroke-width="1.8"/>
<line x1="227.6" y1="816.0" x2="227.6" y2="948.6" stroke="#222" stroke-width="1.8"/>
<rect x="227" y="948.4" width="1684" height="61.7" fill="#b1ada6"/>
<path d="M273.5,592.0 C279.8,592.5 288.2,592.7 311.0,595.0 C333.8,597.3 358.5,601.3 410.0,606.0 C461.5,610.7 550.0,617.9 620.0,623.0 C690.0,628.1 767.0,632.7 830.0,636.5 C893.0,640.3 951.3,643.2 998.0,646.0 C1044.7,648.8 1063.3,651.0 1110.0,653.3 C1156.7,655.6 1236.0,658.9 1278.0,660.0 C1320.0,661.1 1343.0,660.4 1362.0,660.0 C1381.0,659.6 1385.2,659.2 1392.0,657.5 C1398.8,655.8 1400.2,653.6 1403.0,650.0 C1405.8,646.4 1407.0,641.9 1409.0,636.0 C1411.0,630.1 1412.9,620.6 1414.7,614.6 C1416.5,608.6 1418.3,603.8 1420.0,600.0 C1421.7,596.2 1424.2,593.3 1425.0,592.0 L1425,592 L273.5,592 Z" fill="#9a00d4"/>
<path d="M237.0,948.4 C237.3,950.3 238.2,956.3 239.0,960.0 C239.8,963.7 240.7,967.1 242.0,970.4 C243.3,973.7 244.9,977.2 247.0,980.0 C249.1,982.8 251.8,984.8 254.6,987.0 C257.4,989.2 260.5,991.2 264.0,993.0 C267.5,994.8 265.3,995.9 275.6,997.7 C285.9,999.5 307.1,1002.4 326.0,1004.0 C344.9,1005.6 363.5,1006.3 389.0,1007.2 C414.5,1008.1 447.5,1009.0 479.0,1009.6 C510.5,1010.2 533.5,1009.9 578.0,1011.0 C622.5,1012.1 697.0,1014.4 746.0,1016.0 C795.0,1017.6 830.0,1019.2 872.0,1020.5 C914.0,1021.8 948.7,1022.2 998.0,1023.5 C1047.3,1024.8 1118.7,1026.9 1168.0,1028.0 C1217.3,1029.1 1259.0,1030.2 1294.0,1030.0 C1329.0,1029.8 1358.7,1028.1 1378.0,1027.0 C1397.3,1025.9 1402.3,1025.0 1410.0,1023.5 C1417.7,1022.0 1420.0,1020.4 1424.0,1018.0 C1428.0,1015.6 1430.4,1013.2 1434.0,1009.0 C1437.6,1004.8 1442.1,999.2 1445.4,993.0 C1448.7,986.8 1451.7,977.8 1453.8,972.0 C1455.9,966.2 1457.0,961.9 1458.0,958.0 C1459.0,954.1 1459.7,950.0 1460.0,948.4 Z" fill="#9a00d4"/>
<line x1="399" y1="1007.9" x2="1429.7" y2="1011" stroke="#000" stroke-width="3.1" stroke-dasharray="11 6"/>
<line x1="399" y1="1007.7" x2="577" y2="1008.2" stroke="#000" stroke-width="4.4" stroke-dasharray="11 6"/>
<rect x="1395" y="72" width="15" height="101" fill="#ed7d31"/>
<rect x="1395" y="434" width="15" height="100" fill="#ed7d31"/>
<rect x="1395" y="788" width="15" height="100" fill="#ed7d31"/>
<polygon points="303.5,358.5 556.0,358.5 556.0,341.5 587.5,375.0 556.0,408.5 556.0,391.5 303.5,391.5" fill="#fff" stroke="#000" stroke-width="5" stroke-linejoin="miter"/>
<polygon points="1178.5,358.5 1430.0,358.5 1430.0,341.5 1462.5,375.0 1430.0,408.5 1430.0,391.5 1178.5,391.5" fill="#fff" stroke="#000" stroke-width="5" stroke-linejoin="miter"/>
<polygon points="1598.5,358.5 1850.0,358.5 1850.0,341.5 1881.0,375.0 1850.0,408.5 1850.0,391.5 1598.5,391.5" fill="#fff" stroke="#000" stroke-width="5" stroke-linejoin="miter"/>
<polygon points="1919.5,313.8 1997.9,76.4 1980.9,70.8 2023.5,51.7 2046.4,92.4 2029.4,86.8 1951.0,324.2" fill="#fff" stroke="#0a0a0a" stroke-width="5.5" stroke-linejoin="miter"/>
<g fill="none" stroke="#000" stroke-width="6.3" stroke-linecap="round" stroke-linejoin="round">
<line x1="630.0" y1="44.0" x2="800.0" y2="44.0" stroke-linecap="butt"/>
<polyline points="778.0,28.0 801.0,44.0 778.0,60.0"/>
</g>
<g fill="none" stroke="#000" stroke-width="6.3" stroke-linecap="round" stroke-linejoin="round">
<line x1="1585.0" y1="44.0" x2="1415.0" y2="44.0" stroke-linecap="butt"/>
<polyline points="1437.0,28.0 1414.0,44.0 1437.0,60.0"/>
</g>
<g fill="none" stroke="#000" stroke-width="8.0" stroke-linecap="round" stroke-linejoin="round">
<line x1="411.0" y1="1699.0" x2="240.0" y2="1699.0" stroke-linecap="butt"/>
<polyline points="273.0,1680.0 239.0,1699.0 273.0,1718.0"/>
</g>
<g fill="none" stroke="#000" stroke-width="8.0" stroke-linecap="round" stroke-linejoin="round">
<line x1="1544.0" y1="2084.4" x2="1715.0" y2="2084.4" stroke-linecap="butt"/>
<polyline points="1682.0,2065.4 1716.0,2084.4 1682.0,2103.4"/>
</g>
<g stroke="#000" stroke-width="3.8" fill="none">
<line x1="1166.8" y1="615.5" x2="1294" y2="720"/>
<line x1="1181" y1="1066.5" x2="1287.8" y2="1021.7"/>
<line x1="1722.7" y1="1030" x2="1800" y2="963.6"/>
<line x1="1461.6" y1="1736.4" x2="1343" y2="1816.3" stroke-width="3.4"/>
<line x1="1344" y1="1815.6" x2="1279.5" y2="1859.2" stroke="#4a4a4a" stroke-width="3.4"/>
</g>
<line x1="225" y1="101" x2="225" y2="2143" stroke="#4472c4" stroke-width="3.5" stroke-dasharray="20 6"/>
<line x1="1916.4" y1="110" x2="1911.7" y2="2143" stroke="#4472c4" stroke-width="3.5" stroke-dasharray="20 6"/>
<text class="s" x="821.0" y="74.8">scaled ×3 times</text>
<text class="s" x="259.0" y="199.5" style="fill:#fff">(a) full insul.</text>
<text class="s" x="1430.0" y="181.0" style="fill:#ed7d31">slag</text>
<text class="s" x="725.0" y="395.0">melt flow</text>
<text class="s" x="255.0" y="565.0" style="fill:#fff">(b) no insul.</text>
<text class="s" x="934.0" y="566.0">refractory</text>
<text class="sb" x="137.0" y="625.6">A</text>
<text class="sb" x="1921.5" y="621.0">A</text>
<text class="s" x="1339.0" y="744.0">solidified layer</text>
<text class="s" x="257.0" y="931.0" style="fill:#fff">(c) no insul. + clog</text>
<text class="s" x="564.0" y="1115.5">mush overgrowth</text>
<text class="s" x="1446.0" y="1104.5">12 mm clog</text>
<text class="s" x="25" y="1285.7"><tspan font-style="italic">T</tspan>, K</text>
<text class="s" x="1169.7" y="1343.6">(a)</text>
<text class="s" x="1060.5" y="1610.0">(b)</text>
<text class="s" x="946.0" y="1807.8">(c)</text>
<text class="s" x="766.5" y="2066.0">(b)</text>
<text class="s" x="1657.0" y="1458.7" style="font-size:78.5px">liquidus</text>
<text class="s" x="1686.7" y="1543.7" style="font-size:78.5px">solidus</text>
<text class="s" x="1431.5" y="1715.5">overgrowth</text>
<text class="sb" x="439.0" y="1802.0">A-A</text>
<text class="s" x="1479.2" y="1963.7">12 mm clog</text>
<text class="s" x="2054.0" y="1547.0">Mush,</text>
<text class="s" x="2055.0" y="1651.0">mm</text>
<text class="s" x="514.8" y="2303.8">Distance from the SEN inlet, m</text>
</svg></body></html>
